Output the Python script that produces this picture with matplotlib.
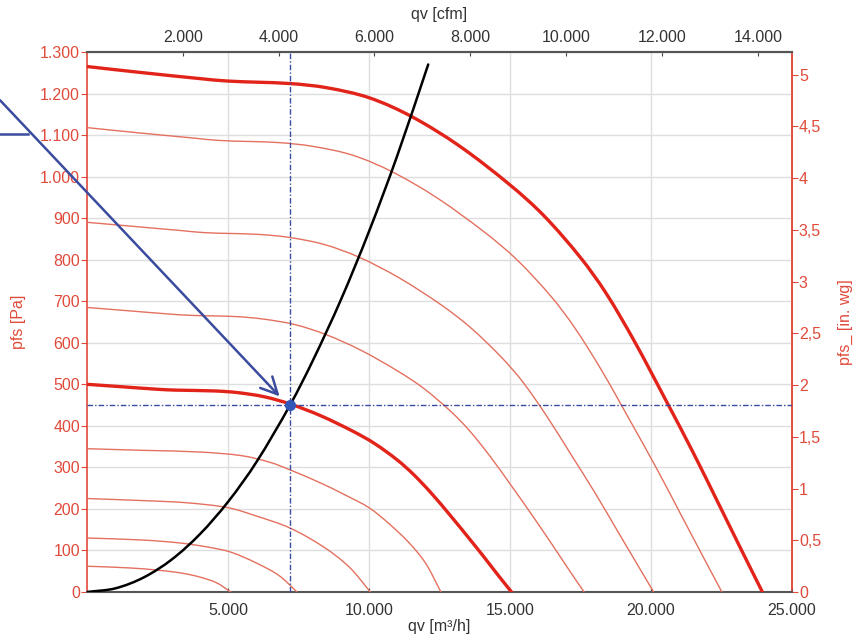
import matplotlib
matplotlib.use("Agg")
import matplotlib.pyplot as plt
import numpy as np
from matplotlib.path import Path
from matplotlib.patches import PathPatch
from matplotlib.ticker import FuncFormatter, FixedLocator

plt.rcParams['font.family'] = ['Liberation Sans', 'DejaVu Sans']

# ---------------- data (q in m3/h, p in Pa) ----------------
# thick full-speed curve
q_full = [0, 2000, 4000, 5000, 7200, 8500, 10000, 11500, 13200, 15000, 16200, 17500, 18400, 19400, 20500, 21500, 22400, 23200, 23950]
p_full = [1265, 1250, 1236, 1230, 1224, 1214, 1190, 1145, 1074, 980, 906, 805, 720, 605, 465, 335, 212, 102, 0]

# thin curves
q_c1 = [0, 1880, 3760, 4700, 6768, 7990, 9400, 10810, 12408, 14100, 15228, 16450, 17296, 18236, 19270, 20210, 21056, 21808, 22513]
p_c1 = [1118, 1105, 1093, 1087, 1082, 1073, 1052, 1012, 949, 866, 801, 712, 636, 535, 411, 296, 187, 90, 0]

q_c2 = [0, 1678, 3356, 4195, 6041, 7132, 8390, 9649, 11075, 12585, 13592, 14683, 15438, 16277, 17200, 18039, 18794, 19465, 20094]
p_c2 = [890, 880, 870, 865, 861, 854, 837, 806, 756, 690, 637, 566, 507, 426, 327, 236, 149, 72, 0]

q_c3 = [0, 1472, 2944, 3680, 5299, 6256, 7360, 8464, 9715, 11040, 11923, 12880, 13542, 14278, 15088, 15824, 16486, 17075, 17627]
p_c3 = [685, 677, 669, 666, 663, 657, 644, 620, 582, 531, 491, 436, 390, 328, 252, 181, 115, 55, 0]

# thick operating-speed curve
q_op = [0, 1257, 2514, 3143, 4526, 5343, 6286, 7229, 8298, 9429, 10183, 11000, 11563, 12195, 12886, 13514, 14080, 14583, 15055]
p_op = [500, 494, 488, 486, 484, 480, 470, 452, 424, 387, 358, 318, 284, 239, 184, 132, 84, 40, 0]

q_c5 = [0, 2000, 4000, 5500, 6500, 7200, 8300, 9200, 10000, 10700, 11400, 12000, 12550]
p_c5 = [345, 341, 337, 328, 312, 294, 262, 232, 203, 165, 120, 70, 0]

q_c6 = [0, 2000, 3500, 5000, 6000, 7200, 8400, 9300, 10050]
p_c6 = [225, 220, 215, 203, 183, 154, 108, 60, 0]

q_c7 = [0, 2000, 3300, 4300, 5100, 6000, 6800, 7450]
p_c7 = [130, 125, 118, 108, 96, 70, 40, 0]

q_c8 = [0, 1500, 2600, 3400, 4000, 4600, 5100]
p_c8 = [62, 58, 52, 45, 36, 22, 0]

# system curve
q_sys = [0, 1000, 2000, 3000, 4000, 5000, 6000, 7200, 8000, 9000, 10000, 11000, 12100]
p_sys = [0, 8.7, 34.7, 78, 139, 217, 312, 450, 556, 703, 868, 1050, 1270]

# operating point
q_opt = 7200
p_opt = 450

x_ticks = [5000, 10000, 15000, 20000, 25000]
y_ticks = list(range(0, 1301, 100))
cfm_ticks = [2000, 4000, 6000, 8000, 10000, 12000, 14000]
inwg_ticks = [0, 0.5, 1, 1.5, 2, 2.5, 3, 3.5, 4, 4.5, 5]

M3H_PER_CFM = 1.699
PA_PER_INWG = 249.09

# ---------------- styling ----------------
RED = '#e2231a'
THIN = '#e4705f'
AXRED = '#e04a3a'
GRAY = '#444444'
BLUE = '#3b4c9e'

fig = plt.figure(figsize=(8.6, 6.39), dpi=100)
ax = fig.add_axes([87/860, 47/639, (792-87)/860, (592-52)/639])

ax.set_xlim(0, 25000)
ax.set_ylim(0, 1300)

ax.grid(True, color='#dedede', lw=1.0)
ax.set_axisbelow(True)
ax.xaxis.set_major_locator(FixedLocator(x_ticks))
ax.yaxis.set_major_locator(FixedLocator(y_ticks))


def thou(v, pos=None):
    v = int(round(v))
    return f"{v:,}".replace(',', '.')


ax.xaxis.set_major_formatter(FuncFormatter(thou))
ax.yaxis.set_major_formatter(FuncFormatter(thou))

ax.tick_params(axis='x', direction='in', colors=GRAY, labelsize=11.5, length=3, pad=8)
ax.tick_params(axis='y', direction='out', colors=AXRED, labelsize=11.5, length=4, pad=1)
ax.tick_params(axis='x', labelcolor='#333333')

for s in ['bottom', 'top']:
    ax.spines[s].set_color('#555555')
    ax.spines[s].set_linewidth(1.5)
for s in ['left', 'right']:
    ax.spines[s].set_color(AXRED)
    ax.spines[s].set_linewidth(1.2)


def smooth_curve(q, p, **kw):
    """Draw a smooth curve through the data points (cubic Bezier segments)."""
    P = np.column_stack([q, p]).astype(float)
    scale = np.array([25000.0, 1300.0])
    N = P / scale
    n = len(P)
    tang = np.zeros_like(N)
    for i in range(n):
        if i == 0:
            tang[i] = (N[1] - N[0]) / np.linalg.norm(N[1] - N[0])
        elif i == n - 1:
            tang[i] = (N[-1] - N[-2]) / np.linalg.norm(N[-1] - N[-2])
        else:
            d0 = np.linalg.norm(N[i] - N[i - 1])
            d1 = np.linalg.norm(N[i + 1] - N[i])
            tang[i] = (N[i + 1] - N[i - 1]) / (d0 + d1)
    verts = [tuple(P[0])]
    codes = [Path.MOVETO]
    for i in range(n - 1):
        d = np.linalg.norm(N[i + 1] - N[i])
        c1 = (N[i] + tang[i] * d / 3) * scale
        c2 = (N[i + 1] - tang[i + 1] * d / 3) * scale
        verts += [tuple(c1), tuple(c2), tuple(P[i + 1])]
        codes += [Path.CURVE4] * 3
    patch = PathPatch(Path(verts, codes), fill=False, capstyle='round', joinstyle='round', **kw)
    ax.add_patch(patch)


# curves
for q, p in [(q_c1, p_c1), (q_c2, p_c2), (q_c3, p_c3), (q_c5, p_c5), (q_c6, p_c6), (q_c7, p_c7), (q_c8, p_c8)]:
    smooth_curve(q, p, edgecolor=THIN, lw=1.0, zorder=3)
smooth_curve(q_full, p_full, edgecolor=RED, lw=2.4, zorder=4)
smooth_curve(q_op, p_op, edgecolor=RED, lw=2.4, zorder=4)
smooth_curve(q_sys, p_sys, edgecolor='black', lw=1.8, zorder=5)

# operating-point lines
ax.axvline(q_opt, color=BLUE, lw=1.0, dashes=(4, 1.5, 1, 1.5), zorder=6)
ax.axhline(p_opt, color=BLUE, lw=1.0, dashes=(4, 1.5, 1, 1.5), zorder=6)
ax.plot([q_opt], [p_opt], 'o', color='#3358b8', ms=7, zorder=7)

# annotation arrow from outside the axes
ax.annotate('', xy=(6830, 471), xytext=(-3085, 1184),
            arrowprops=dict(arrowstyle='->', color=BLUE, lw=1.8, mutation_scale=30,
                            shrinkA=0, shrinkB=0),
            annotation_clip=False, zorder=8)
ax.plot([-3085, -2092], [1102, 1102], color=BLUE, lw=1.8, clip_on=False, zorder=8)

# secondary axes
top = ax.secondary_xaxis('top', functions=(lambda q: q / M3H_PER_CFM, lambda c: c * M3H_PER_CFM))
top.xaxis.set_major_locator(FixedLocator(cfm_ticks))
top.xaxis.set_major_formatter(FuncFormatter(thou))
top.tick_params(direction='in', colors=GRAY, labelsize=11.5, length=3, pad=5)
top.tick_params(labelcolor='#333333')
top.spines['top'].set_color('#555555')
top.spines['top'].set_linewidth(1.5)
top.set_xlabel('qv [cfm]', color='#333333', fontsize=11.5, labelpad=8)

right = ax.secondary_yaxis('right', functions=(lambda p: p / PA_PER_INWG, lambda w: w * PA_PER_INWG))
right.yaxis.set_major_locator(FixedLocator(inwg_ticks))
right.yaxis.set_major_formatter(FuncFormatter(lambda v, pos: (f"{v:g}").replace('.', ',')))
right.tick_params(direction='out', colors=AXRED, labelsize=11.5, length=4, pad=1)
right.spines['right'].set_color(AXRED)
right.spines['right'].set_linewidth(1.2)
right.set_ylabel('pfs_ [in. wg]', color=AXRED, fontsize=11.5, labelpad=12)

ax.set_xlabel('qv [m³/h]', color='#333333', fontsize=11.5, labelpad=1)
ax.set_ylabel('pfs [Pa]', color=AXRED, fontsize=11.5, labelpad=10)

fig.savefig('out.png', dpi=100)
